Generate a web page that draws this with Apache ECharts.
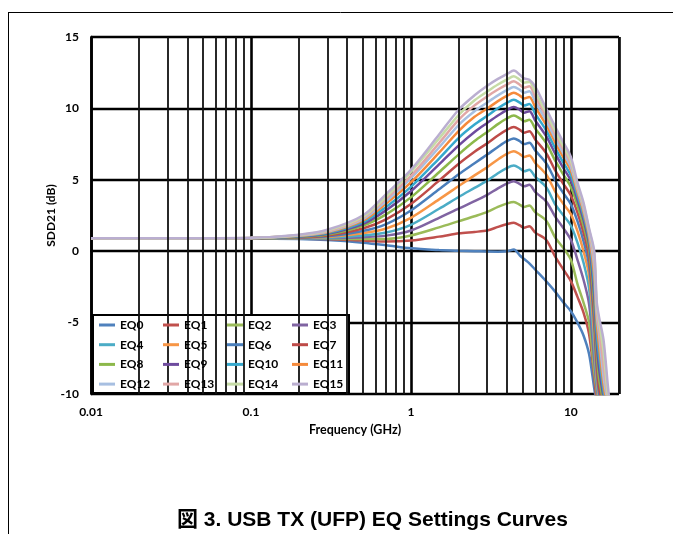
<!DOCTYPE html>
<html>
<head>
<meta charset="utf-8">
<script src="https://cdn.jsdelivr.net/npm/echarts@6/dist/echarts.min.js"></script>
<style>
html,body{margin:0;padding:0;background:#fff;}
#chart{width:673px;height:534px;}
</style>
</head>
<body>
<div id="chart"></div>
<script>
// ---- data ----
const freqGHz = [0.01, 0.03, 0.1, 0.2, 0.3, 0.5, 0.7, 1, 1.5, 2, 2.5, 3, 3.5, 4, 4.4, 4.8, 5.1, 5.5, 6, 7, 8, 9, 10, 11, 12, 13, 14, 14.5, 15, 16, 17, 18];
const eq0  = [0.9, 0.9, 0.88, 0.85, 0.78, 0.6, 0.42, 0.2, 0.08, 0.03, 0.0, -0.02, -0.03, 0.0, 0.12, -0.3, -0.55, -0.85, -1.3, -2.1, -2.85, -3.6, -4.2, -5.0, -5.9, -7.2, -9.6, -10.6, -11, -12, -12, -12];
const eq1  = [0.9, 0.9, 0.89, 0.87, 0.85, 0.75, 0.68, 0.75, 1.02, 1.25, 1.35, 1.45, 1.7, 1.9, 2.0, 1.8, 1.65, 1.75, 1.3, 0.8, -0.4, -1.3, -2.1, -3.2, -4.3, -5.8, -8.8, -10.4, -11, -12, -12, -12];
const eq2  = [0.9, 0.9, 0.89, 0.88, 0.87, 0.85, 0.86, 1.1, 1.67, 2.11, 2.45, 2.75, 3.1, 3.35, 3.45, 3.25, 3.1, 3.2, 2.72, 2.15, 0.94, 0.2, -0.6, -2.3, -3.6, -5.0, -8.4, -9.8, -11, -12, -12, -12];
const eq3  = [0.9, 0.9, 0.89, 0.89, 0.9, 0.98, 1.09, 1.45, 2.34, 3.0, 3.5, 3.95, 4.4, 4.75, 4.9, 4.7, 4.55, 4.65, 4.14, 3.49, 2.4, 1.6, 0.8, -0.6, -2.0, -3.7, -7.6, -9.5, -10.6, -12, -12, -12];
const eq4  = [0.9, 0.9, 0.9, 0.91, 0.95, 1.1, 1.31, 1.85, 2.97, 3.81, 4.43, 4.94, 5.46, 5.84, 6.0, 5.8, 5.6, 5.7, 5.2, 4.49, 3.27, 2.5, 1.8, 0.6, -0.8, -2.6, -6.8, -9.2, -10.4, -12, -12, -12];
const eq5  = [0.9, 0.9, 0.9, 0.93, 1.0, 1.26, 1.59, 2.34, 3.63, 4.58, 5.31, 5.88, 6.42, 6.83, 7.0, 6.8, 6.6, 6.7, 6.17, 5.39, 4.16, 3.3, 2.6, 1.4, 0.0, -1.7, -6.0, -8.8, -10.2, -12, -12, -12];
const eq6  = [0.9, 0.9, 0.9, 0.95, 1.05, 1.42, 1.9, 2.85, 4.33, 5.41, 6.16, 6.77, 7.3, 7.72, 7.9, 7.7, 7.5, 7.6, 7.04, 6.18, 4.95, 4.05, 3.3, 2.1, 0.7, -1.0, -5.2, -8.3, -9.9, -11.5, -12, -12];
const eq7  = [0.9, 0.9, 0.91, 0.97, 1.1, 1.59, 2.23, 3.3, 4.94, 6.14, 6.97, 7.55, 8.1, 8.51, 8.7, 8.5, 8.3, 8.4, 7.81, 6.88, 5.64, 4.7, 3.9, 2.7, 1.3, -0.4, -4.5, -7.7, -9.5, -11, -12, -12];
const eq8  = [0.9, 0.9, 0.91, 1.0, 1.16, 1.78, 2.58, 3.77, 5.53, 6.8, 7.71, 8.35, 8.9, 9.31, 9.5, 9.3, 9.1, 9.2, 8.58, 7.58, 6.32, 5.35, 4.5, 3.2, 1.8, 0.1, -3.8, -7.0, -8.9, -10.6, -12, -12];
const eq9  = [0.9, 0.9, 0.91, 1.03, 1.22, 1.9, 2.87, 4.2, 6.08, 7.43, 8.35, 8.98, 9.5, 9.9, 10.1, 9.9, 9.7, 9.8, 9.14, 8.07, 6.81, 5.8, 4.95, 3.6, 2.2, 0.5, -3.1, -6.3, -8.2, -10.2, -12, -12];
const eq10 = [0.9, 0.9, 0.92, 1.05, 1.27, 2.02, 3.1, 4.5, 6.49, 7.96, 8.87, 9.48, 10.01, 10.4, 10.6, 10.4, 10.2, 10.3, 9.61, 8.47, 7.2, 6.18, 5.3, 3.9, 2.5, 0.8, -2.4, -5.6, -7.4, -9.8, -11.5, -12];
const eq11 = [0.9, 0.9, 0.92, 1.08, 1.32, 2.14, 3.34, 4.82, 6.9, 8.45, 9.41, 9.99, 10.51, 10.89, 11.1, 10.9, 10.7, 10.8, 10.08, 8.86, 7.59, 6.55, 5.65, 4.15, 2.75, 1.05, -1.7, -4.9, -6.6, -9.3, -11, -12];
const eq12 = [0.9, 0.9, 0.92, 1.1, 1.36, 2.23, 3.5, 5.1, 7.26, 8.87, 9.8, 10.41, 10.91, 11.29, 11.5, 11.3, 11.1, 11.2, 10.45, 9.16, 7.88, 6.83, 5.9, 4.35, 2.95, 1.25, -1.1, -4.4, -5.8, -8.8, -10.6, -12];
const eq13 = [0.9, 0.9, 0.93, 1.12, 1.4, 2.32, 3.67, 5.27, 7.57, 9.23, 10.21, 10.84, 11.32, 11.68, 11.9, 11.65, 11.45, 11.55, 10.81, 9.46, 8.17, 7.1, 6.15, 4.5, 3.1, 1.4, -0.6, -4.0, -5.3, -8.0, -10.3, -12];
const eq14 = [0.9, 0.9, 0.93, 1.14, 1.45, 2.4, 3.82, 5.55, 7.89, 9.57, 10.57, 11.18, 11.67, 12.03, 12.25, 12.0, 11.8, 11.85, 11.13, 9.7, 8.41, 7.33, 6.35, 4.65, 3.25, 1.5, -0.2, -3.7, -4.9, -7.0, -10, -12];
const eq15 = [0.9, 0.9, 0.94, 1.16, 1.5, 2.5, 4.0, 5.7, 8.17, 9.94, 10.92, 11.59, 12.07, 12.42, 12.65, 12.35, 12.1, 12.0, 11.5, 10.0, 8.7, 7.6, 6.6, 4.8, 3.4, 1.6, 0.0, -3.5, -4.6, -6.2, -9.3, -12];

const seriesNames = ['EQ0','EQ1','EQ2','EQ3','EQ4','EQ5','EQ6','EQ7','EQ8','EQ9','EQ10','EQ11','EQ12','EQ13','EQ14','EQ15'];
const seriesValues = [eq0,eq1,eq2,eq3,eq4,eq5,eq6,eq7,eq8,eq9,eq10,eq11,eq12,eq13,eq14,eq15];
const seriesColors = ['#4F81BD','#C0504D','#9BBB59','#8064A2','#4BACC6','#F79646',
                      '#4A7EBB','#BE4B48','#8CB84A','#6E4B9E','#35A8CD','#F58A3B',
                      '#A7BFE1','#E1A7A6','#C6DBA6','#BAAED0'];

const xTickValues = [0.01, 0.1, 1, 10];
const xTickLabels = ['0.01', '0.1', '1', '10'];
const minorGridGHz = [0.02,0.03,0.04,0.05,0.06,0.07,0.08,0.09,
                      0.2,0.3,0.4,0.5,0.6,0.7,0.8,0.9,
                      2,3,4,5,6,7,8,9,20];
const yMin = -10, yMax = 15, yStep = 5;

// ---- chart ----
const chart = echarts.init(document.getElementById('chart'), null, {renderer:'canvas'});
const FONT = 'Lato, "Open Sans", "Liberation Sans", sans-serif';

const lineSeries = seriesNames.map((name, k) => ({
  name: name,
  type: 'line',
  data: freqGHz.map((f, i) => [f, seriesValues[k][i]]),
  showSymbol: false,
  symbol: 'none',
  smooth: 0.3,
  clip: true,
  z: 3,
  lineStyle: {width: 2.5, color: seriesColors[k]},
  itemStyle: {color: seriesColors[k]},
  emphasis: {disabled: true}
}));

const gridSeries = {
  type: 'line',
  data: [],
  silent: true,
  z: 1,
  markLine: {
    silent: true,
    symbol: 'none',
    animation: false,
    label: {show: false},
    lineStyle: {color: '#111', width: 1.8, type: 'solid'},
    emphasis: {disabled: true},
    data: minorGridGHz.map(v => ({xAxis: v}))
  }
};

const legendCols = [99, 163, 227, 292];
const legends = legendCols.map((left, c) => ({
  orient: 'vertical',
  left: left,
  top: 318,
  padding: 0,
  itemGap: 5.7,
  itemWidth: 16,
  itemHeight: 3,
  icon: 'rect',
  selectedMode: false,
  z: 10,
  textStyle: {fontFamily: FONT, fontWeight: 'bold', fontSize: 12, color: '#000', lineHeight: 14},
  data: [seriesNames[c], seriesNames[c+4], seriesNames[c+8], seriesNames[c+12]]
}));

chart.setOption({
  animation: false,
  backgroundColor: '#fff',
  title: {
    text: '図 3. USB TX (UFP) EQ Settings Curves',
    left: 172,
    top: 505,
    textStyle: {fontFamily: '"Liberation Sans", Arial, "Noto Sans CJK JP", sans-serif', fontWeight: 'bold', fontSize: 21, color: '#000'}
  },
  grid: {left: 91, right: 54, top: 37, bottom: 140, containLabel: false},
  legend: legends,
  xAxis: {
    type: 'log',
    logBase: 10,
    min: 0.01,
    max: 20,
    name: 'Frequency (GHz)',
    nameLocation: 'middle',
    nameGap: 29,
    nameMoveOverlap: false,
    nameTextStyle: {fontFamily: FONT, fontWeight: 'bold', fontSize: 12.5, color: '#000'},
    axisLine: {show: true, lineStyle: {color: '#000', width: 2}},
    axisTick: {show: false},
    axisLabel: {
      margin: 12,
      fontFamily: FONT, fontWeight: 'bold', fontSize: 12, color: '#000',
      formatter: function (v) {
        for (let i = 0; i < xTickValues.length; i++) {
          if (Math.abs(v - xTickValues[i]) < xTickValues[i] * 1e-6) return xTickLabels[i];
        }
        return '';
      }
    },
    splitLine: {show: true, lineStyle: {color: '#000', width: 2.6}},
    minorTick: {show: false},
    minorSplitLine: {show: false}
  },
  yAxis: {
    type: 'value',
    min: yMin,
    max: yMax,
    interval: yStep,
    name: 'SDD21 (dB)',
    nameLocation: 'middle',
    nameRotate: 90,
    nameGap: 34,
    nameMoveOverlap: false,
    nameTextStyle: {fontFamily: FONT, fontWeight: 'bold', fontSize: 12, color: '#000'},
    axisLine: {show: true, lineStyle: {color: '#000', width: 2.6}},
    axisTick: {show: false},
    axisLabel: {margin: 12, fontFamily: FONT, fontWeight: 'bold', fontSize: 12, color: '#000'},
    splitLine: {show: true, lineStyle: {color: '#000', width: 2.4}}
  },
  graphic: [
    {type: 'line', z: 100, shape: {x1: 8, y1: 12.5, x2: 673, y2: 12.5}, style: {stroke: '#000', lineWidth: 1}},
    {type: 'line', z: 100, shape: {x1: 8.5, y1: 12, x2: 8.5, y2: 534}, style: {stroke: '#000', lineWidth: 1}},
    {type: 'rect', z: 5, shape: {x: 93, y: 315, width: 256, height: 78}, style: {fill: '#fff', stroke: '#000', lineWidth: 2}}
  ],
  series: [gridSeries].concat(lineSeries)
});
</script>
</body>
</html>
